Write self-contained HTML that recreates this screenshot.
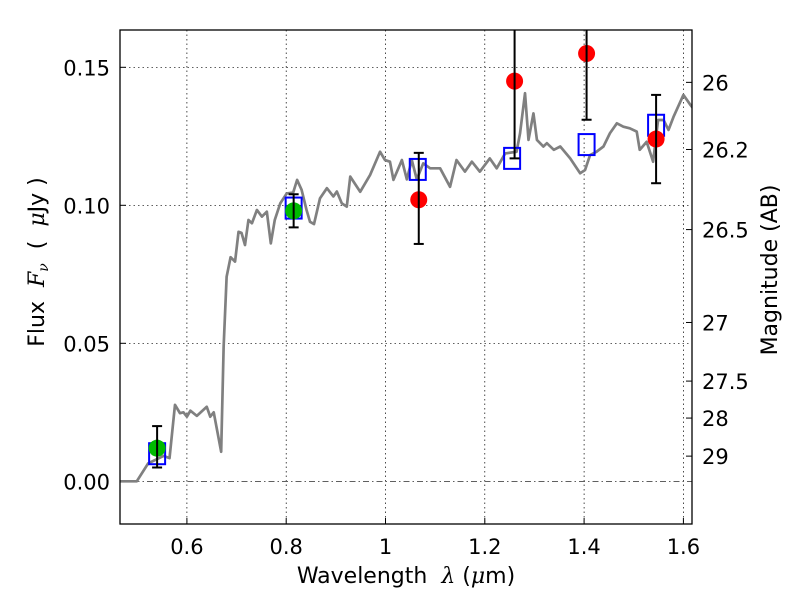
<!DOCTYPE html>
<html><head><meta charset="utf-8"><style>
body{margin:0;background:#fff}
svg{display:block;font-family:"DejaVu Sans","Liberation Sans",sans-serif}
</style></head><body>
<svg id="chart" width="800" height="600" xmlns="http://www.w3.org/2000/svg"></svg>
<script>
// data
const specLam=[0.465,0.499,0.522,0.553,0.565,0.576,0.586,0.593,0.600,0.607,0.620,0.640,0.647,0.654,0.669,0.674,0.680,0.688,0.697,0.704,0.710,0.717,0.724,0.731,0.741,0.751,0.761,0.769,0.777,0.788,0.801,0.814,0.822,0.831,0.841,0.848,0.856,0.868,0.882,0.895,0.902,0.912,0.922,0.929,0.949,0.969,0.989,0.999,1.009,1.016,1.033,1.043,1.053,1.063,1.076,1.09,1.11,1.13,1.143,1.16,1.174,1.19,1.21,1.224,1.241,1.264,1.271,1.281,1.288,1.298,1.305,1.318,1.325,1.339,1.352,1.372,1.392,1.402,1.412,1.425,1.439,1.452,1.466,1.479,1.492,1.506,1.512,1.526,1.539,1.549,1.56,1.57,1.58,1.6,1.614,1.62];
const specFlux=[0,0,0.0065,0.0092,0.0084,0.0277,0.0247,0.025,0.0234,0.0256,0.0237,0.027,0.0234,0.025,0.0107,0.0488,0.0741,0.0812,0.0796,0.0904,0.090,0.0856,0.0947,0.0935,0.0983,0.0959,0.0977,0.0862,0.0947,0.1007,0.1043,0.1046,0.1092,0.1056,0.0983,0.094,0.0932,0.1025,0.1062,0.1032,0.105,0.1007,0.0995,0.1104,0.1049,0.111,0.1194,0.1164,0.1158,0.1092,0.1164,0.1094,0.1164,0.1094,0.1152,0.1134,0.1134,0.1067,0.1164,0.1122,0.1158,0.1122,0.117,0.1134,0.1188,0.1194,0.1261,0.1406,0.1237,0.1333,0.1237,0.1213,0.1225,0.1201,0.1213,0.117,0.1116,0.1128,0.1182,0.1194,0.1213,0.1261,0.1297,0.1285,0.1279,0.1267,0.1201,0.123,0.1158,0.1309,0.1309,0.1273,0.132,0.140,0.1364,0.135];
const modelLam=[0.54,0.815,1.065,1.255,1.405,1.545];
const modelFlux=[0.010,0.099,0.113,0.117,0.122,0.129];
const greenLam=[0.54,0.815];
const greenFlux=[0.012,0.098];
const greenLo=[0.005,0.092];
const greenHi=[0.020,0.104];
const redLam=[1.067,1.26,1.405,1.545];
const redFlux=[0.102,0.145,0.155,0.124];
const redLo=[0.086,0.117,0.131,0.108];
const redHi=[0.119,0.20,0.20,0.140];
const xTicks=[0.6,0.8,1,1.2,1.4,1.6];
const xTickLabels=["0.6","0.8","1","1.2","1.4","1.6"];
const yTicks=[0,0.05,0.10,0.15];
const yTickLabels=["0.00","0.05","0.10","0.15"];
const magTicks=[26,26.2,26.5,27,27.5,28,29];
const magTickLabels=["26","26.2","26.5","27","27.5","28","29"];

const L=120,R=692,T=30,B=524;
const X=v=>385.5+(v-1)*496.5;
const Y=v=>481.3-v*2760;
const svg=document.getElementById('chart');
const NS='http://www.w3.org/2000/svg';
function mk(tag,attrs,parent){const e=document.createElementNS(NS,tag);for(const k in attrs)e.setAttribute(k,attrs[k]);(parent||svg).appendChild(e);return e;}

const defs=mk('defs',{});
const cp=mk('clipPath',{id:'clip'},defs);
mk('rect',{x:L,y:T,width:R-L,height:B-T},cp);

xTicks.forEach((t,i)=>{
  const g=mk('line',{x1:X(t),x2:X(t),y1:T,y2:B,stroke:'#000','stroke-width':0.7,'stroke-dasharray':'1.5,3'});
  
  
  const tk=mk('line',{x1:X(t),x2:X(t),y1:B,y2:B-6,stroke:'#000'});
  
  
  const tx=mk('text',{x:X(t),y:554,'font-size':21,'text-anchor':'middle'});
  tx.textContent=xTickLabels[i];
  
  
});
yTicks.forEach((t,i)=>{
  const g=mk('line',{x1:L,x2:R,y1:Y(t),y2:Y(t),stroke:'#000','stroke-width':0.7,'stroke-dasharray':t===0?'6,3,1.5,3':'1.5,3'});
  
  
  const tk=mk('line',{x1:L,x2:L+6,y1:Y(t),y2:Y(t),stroke:'#000'});
  
  
  const tx=mk('text',{x:110,y:Y(t)+8,'font-size':21,'text-anchor':'end'});
  tx.textContent=yTickLabels[i];
  
  
});
magTicks.forEach((m,i)=>{
  const f=Math.pow(10,(23.9-m)/2.5);
  const tk=mk('line',{x1:R,x2:R-6,y1:Y(f),y2:Y(f),stroke:'#000'});
  
  
  const tx=mk('text',{x:702,y:Y(f)+8,'font-size':21});
  tx.textContent=magTickLabels[i];
  
  
});

const plot=mk('g',{'clip-path':'url(#clip)'});


const sp=mk('polyline',{points:specLam.map((l,i)=>X(l)+','+Y(specFlux[i])).join(' '),fill:'none',stroke:'#808080','stroke-width':2.7,'stroke-linejoin':'round'},plot);



modelLam.forEach((l,i)=>{
  const r=mk('rect',{x:X(l)-8,y:Y(modelFlux[i])-10.5,width:16,height:21,fill:'none',stroke:'#0000ff','stroke-width':2},plot);
  
  
});
function errbar(l,lo,hi,name){
  const g=mk('g',{},plot);
  
  
  const x=X(l);
  mk('line',{x1:x,x2:x,y1:Y(lo),y2:Y(hi),stroke:'#000','stroke-width':2},g);
  mk('line',{x1:x-5,x2:x+5,y1:Y(lo),y2:Y(lo),stroke:'#000','stroke-width':2},g);
  mk('line',{x1:x-5,x2:x+5,y1:Y(hi),y2:Y(hi),stroke:'#000','stroke-width':2},g);
}
greenLam.forEach((l,i)=>{
  const c=mk('circle',{cx:X(l),cy:Y(greenFlux[i]),r:8.5,fill:'#00bb00'},plot);
  
  
  errbar(l,greenLo[i],greenHi[i],'green-error-bar');
});
redLam.forEach((l,i)=>{
  const c=mk('circle',{cx:X(l),cy:Y(redFlux[i]),r:8.5,fill:'#ff0000'},plot);
  
  
  errbar(l,redLo[i],redHi[i],'red-error-bar');
});

const fr=mk('rect',{x:L,y:T,width:R-L,height:B-T,fill:'none',stroke:'#000','stroke-width':1.3});


</script>
<svg style="position:absolute;left:0;top:0" width="800" height="600" xmlns="http://www.w3.org/2000/svg" font-family="DejaVu Sans, Liberation Sans, sans-serif">
<text x="406" y="583" font-size="22" text-anchor="middle" xml:space="preserve">Wavelength  <tspan font-style="italic" font-family="DejaVu Serif, Liberation Serif, serif">λ</tspan> (<tspan font-style="italic" font-family="DejaVu Serif, Liberation Serif, serif">μ</tspan>m)</text>
<text transform="translate(44,262) rotate(-90)" font-size="22" text-anchor="middle" xml:space="preserve">Flux  <tspan font-style="italic" font-family="DejaVu Serif, Liberation Serif, serif">F<tspan font-size="14" dy="4">ν</tspan></tspan><tspan dy="-4">  (  </tspan><tspan font-style="italic" font-family="DejaVu Serif, Liberation Serif, serif">μ</tspan>Jy )</text>
<text transform="translate(777,270) rotate(-90)" font-size="22" text-anchor="middle">Magnitude (AB)</text>
</svg>
</body></html>
